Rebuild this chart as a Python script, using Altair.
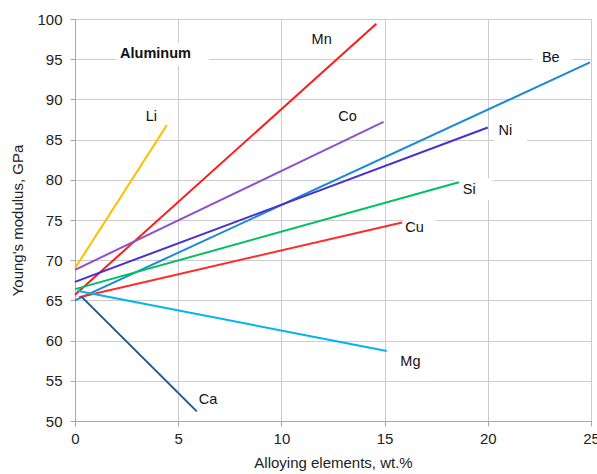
import altair as alt
import pandas as pd

# Line data: each alloying element drawn as a straight segment
elements = ["Li", "Mn", "Co", "Be", "Ni", "Si", "Cu", "Mg", "Ca"]
x_start = [0.0, 0.0, 0.0, 0.0, 0.0, 0.0, 0.2, 0.1, 0.3]
y_start = [69.0, 65.7, 68.8, 65.0, 67.3, 66.4, 65.4, 66.2, 65.5]
x_end = [4.45, 14.6, 14.95, 24.95, 20.0, 18.6, 15.85, 15.1, 5.9]
y_end = [86.8, 99.4, 87.2, 94.6, 86.5, 79.7, 74.7, 58.7, 51.2]
colors = ["#FFC000", "#FF1A1A", "#9050C8", "#1A8AD4", "#4B2ED0",
          "#00C060", "#FF2A2A", "#00B4EF", "#1F5A8C"]

# Text labels
label_text = ["Aluminum", "Mn", "Li", "Co", "Be", "Ni", "Si", "Cu", "Mg", "Ca"]
label_x = [3.9, 11.95, 3.7, 13.2, 23.05, 20.85, 19.1, 16.45, 16.25, 6.45]
label_y = [95.6, 97.4, 87.8, 87.8, 95.1, 86.1, 78.7, 74.0, 57.3, 52.6]
label_bold = [True, False, False, False, False, False, False, False, False, False]

# White boxes behind some labels (hide grid lines)
box_x1 = [2.0, 22.2, 20.3, 18.4, 15.9]
box_x2 = [6.5, 24.1, 21.9, 20.25, 17.5]
box_y1 = [94.2, 94.0, 84.6, 77.5, 72.6]
box_y2 = [97.0, 96.2, 87.1, 80.2, 75.1]

rows = []
for e, xs, ys, xe, ye in zip(elements, x_start, y_start, x_end, y_end):
    rows.append({"element": e, "x": xs, "y": ys, "o": 0})
    rows.append({"element": e, "x": xe, "y": ye, "o": 1})
lines_df = pd.DataFrame(rows)

labels_df = pd.DataFrame({"text": label_text, "x": label_x, "y": label_y,
                          "bold": label_bold})
boxes_df = pd.DataFrame({"x1": box_x1, "x2": box_x2, "y1": box_y1, "y2": box_y2})

xscale = alt.Scale(domain=[0, 25], nice=False)
yscale = alt.Scale(domain=[50, 100], nice=False, zero=False)

xaxis = alt.Axis(title="Alloying elements, wt.%", values=[0, 5, 10, 15, 20, 25],
                 labelPadding=5, titlePadding=9, labelFlush=False)
yaxis = alt.Axis(title="Young's modulus, GPa", values=list(range(50, 101, 5)),
                 labelPadding=8, titlePadding=11, labelFlush=False)

boxes = alt.Chart(boxes_df).mark_rect(color="white").encode(
    x=alt.X("x1:Q", scale=xscale, axis=xaxis),
    x2="x2:Q",
    y=alt.Y("y1:Q", scale=yscale, axis=yaxis),
    y2="y2:Q",
)

lines = alt.Chart(lines_df).mark_line(strokeWidth=2).encode(
    x=alt.X("x:Q", scale=xscale),
    y=alt.Y("y:Q", scale=yscale),
    color=alt.Color("element:N", scale=alt.Scale(domain=elements, range=colors),
                    legend=None),
    order="o:Q",
)

text_normal = alt.Chart(labels_df).transform_filter("!datum.bold").mark_text(
    font="Liberation Sans", fontSize=14.5, color="#111"
).encode(x=alt.X("x:Q", scale=xscale), y=alt.Y("y:Q", scale=yscale), text="text:N")

text_bold = alt.Chart(labels_df).transform_filter("datum.bold").mark_text(
    font="Liberation Sans", fontSize=14.5, fontWeight="bold", color="#111"
).encode(x=alt.X("x:Q", scale=xscale), y=alt.Y("y:Q", scale=yscale), text="text:N")

chart = alt.layer(boxes, lines, text_normal, text_bold).properties(
    width=516, height=402,
    autosize=alt.AutoSizeParams(type="none"),
    padding={"left": 75, "top": 19, "right": 6, "bottom": 53},
    background="white",
).configure_view(
    stroke="#a8a8a8", strokeWidth=1
).configure_axis(
    grid=True, gridColor="#cccccc", gridWidth=1,
    domainColor="#a8a8a8", tickColor="#a8a8a8", tickSize=5,
    labelFont="Liberation Sans", labelFontSize=15, labelColor="#222",
    titleFont="Liberation Sans", titleFontSize=15, titleFontWeight="normal",
    titleColor="#222",
)

chart.save("out.html", embed_options={"renderer": "svg", "actions": False})
